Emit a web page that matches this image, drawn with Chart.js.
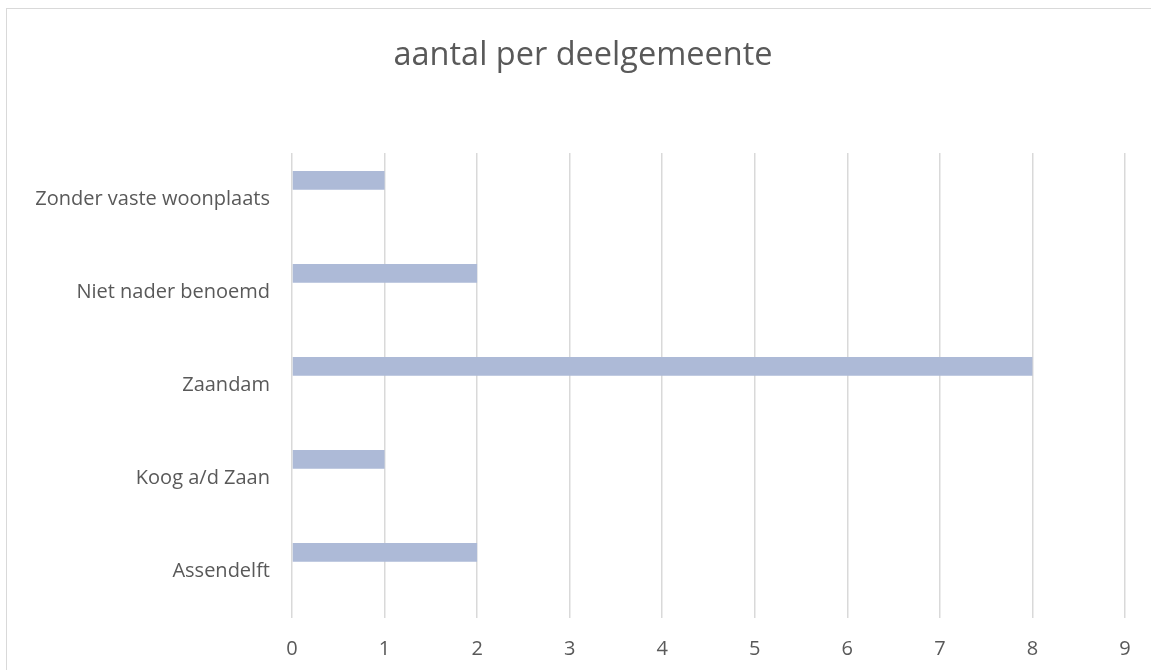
<!DOCTYPE html>
<html>
<head>
<meta charset="utf-8">
<script src="https://cdn.jsdelivr.net/npm/chart.js@4"></script>
<style>
  body { margin: 0; background: #fff; }
  #wrap { position: relative; width: 1151px; height: 670px; overflow: hidden; }
  #kader { position: absolute; left: 6px; top: 8px; width: 1200px; height: 700px; border: 1.5px solid #d9d9d9; }
  #grafiek { position: absolute; left: 0; top: 0; }
</style>
</head>
<body>
<div id="wrap">
  <div id="kader"></div>
  <canvas id="grafiek" width="1151" height="670"></canvas>
</div>
<script>
const deelgemeenten = ['Zonder vaste woonplaats', 'Niet nader benoemd', 'Zaandam', 'Koog a/d Zaan', 'Assendelft'];
const aantallen = [1, 2, 8, 1, 2];
const leeg = [null, null, null, null, null]; // lege reeks, schuift de balk omhoog zoals in Excel
const asTicks = [0, 1, 2, 3, 4, 5, 6, 7, 8, 9];

document.addEventListener("DOMContentLoaded", function () {
    const tekstKleur = '#595959';
    const lettertype = '"Open Sans", sans-serif';

    new Chart(document.getElementById('grafiek').getContext('2d'), {
        type: 'bar',
        data: {
            labels: deelgemeenten,
            datasets: [{
                label: 'aantal',
                data: aantallen,
                backgroundColor: '#adbad7',
                borderWidth: 0
            }, {
                label: '',
                data: leeg
            }]
        },
        options: {
            indexAxis: 'y',
            responsive: false,
            animation: false,
            categoryPercentage: 0.82,
            barPercentage: 0.49,
            layout: { padding: { left: 0, right: 26, top: 0, bottom: 0 } },
            plugins: {
                legend: { display: false },
                tooltip: { enabled: false },
                title: {
                    display: true,
                    text: 'aantal per deelgemeente',
                    color: tekstKleur,
                    font: { family: lettertype, size: 32.5, weight: 'normal' },
                    padding: { top: 36, bottom: 78 }
                }
            },
            scales: {
                x: {
                    min: 0,
                    max: asTicks[asTicks.length - 1],
                    afterBuildTicks: function (as) { as.ticks = asTicks.map(v => ({ value: v })); },
                    afterFit: function (as) { as.height = 52; },
                    grid: { color: '#d9d9d9', lineWidth: 1.5, drawTicks: false },
                    border: { display: false },
                    ticks: { color: tekstKleur, padding: 19, font: { family: lettertype, size: 20 } }
                },
                y: {
                    afterFit: function (as) { as.width = 292; },
                    grid: { display: false, drawTicks: false },
                    border: { display: false },
                    ticks: { color: tekstKleur, padding: 22, font: { family: lettertype, size: 20 } }
                }
            }
        },
        plugins: [{
            id: 'titelVerschuiving',
            afterLayout: function (chart) {
                // titel staat in het origineel iets rechts van het midden
                chart.titleBlock.left += 41;
            }
        }]
    });
});
</script>
</body>
</html>
